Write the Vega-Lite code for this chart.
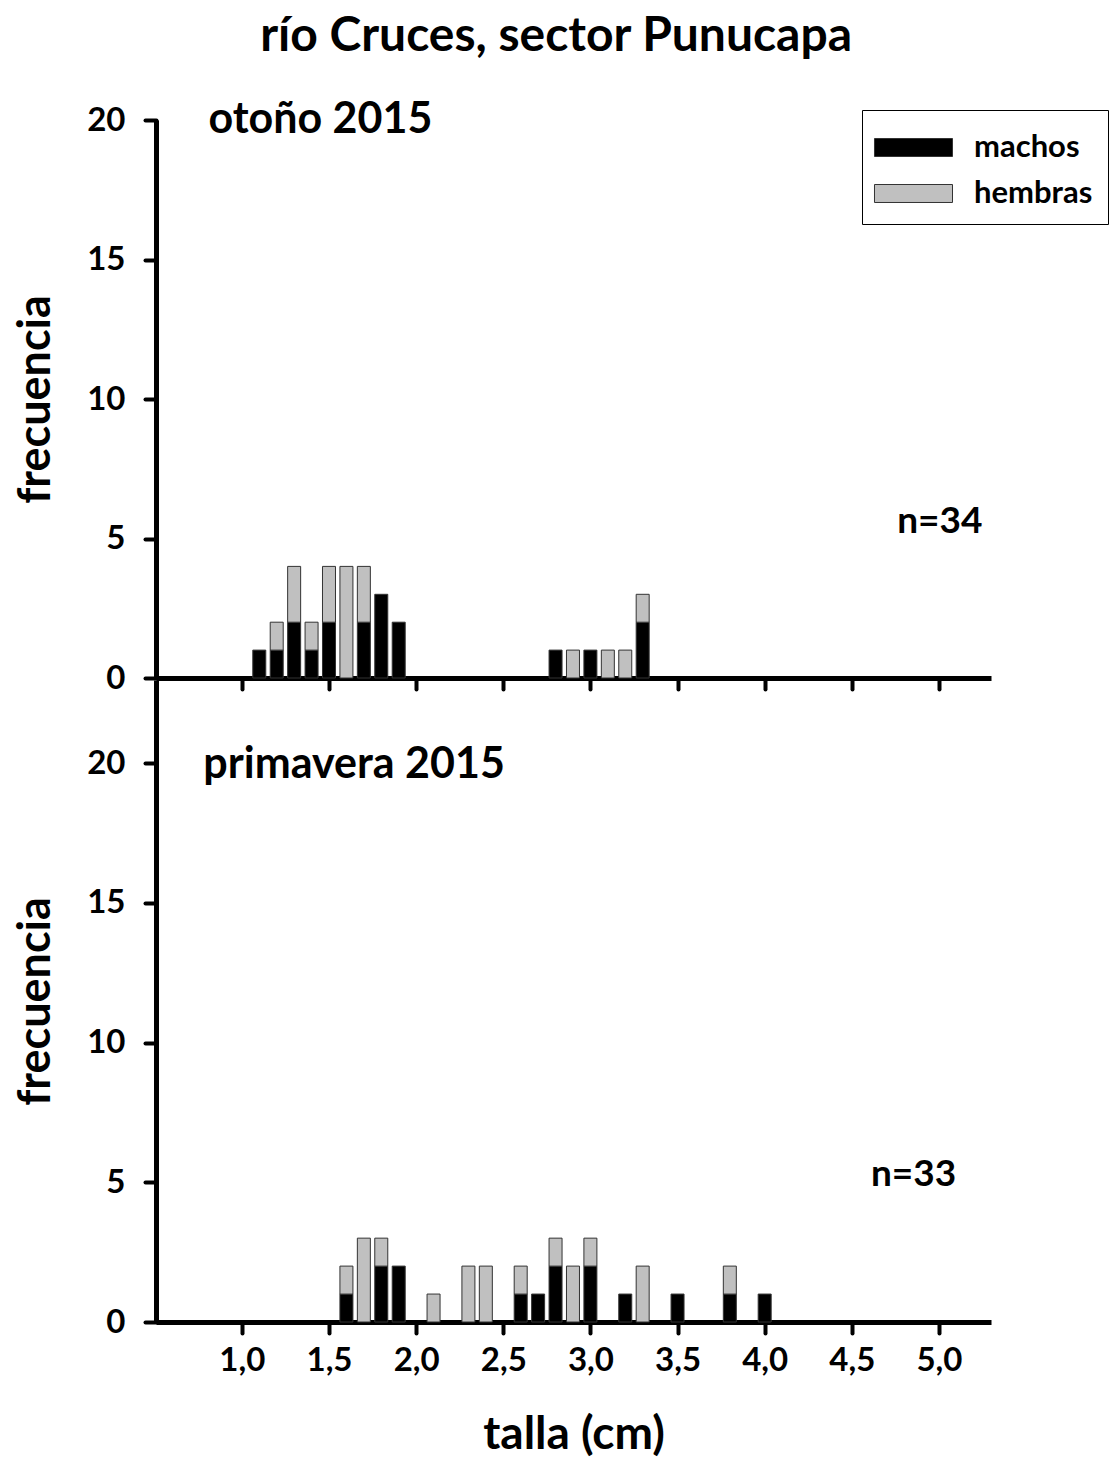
{
  "$schema": "https://vega.github.io/schema/vega-lite/v6.json",
  "background": "white",
  "padding": {"left": 13, "top": 13, "right": 0, "bottom": 0},
  "title": {"text": "río Cruces, sector Punucapa", "fontSize": 48, "font": "Lato", "fontWeight": "bold", "anchor": "middle", "offset": 38, "dx": -5, "color": "black"},
  "config": {
    "font": "Lato",
    "view": {"stroke": null},
    "axis": {
      "domainColor": "black", "domainWidth": 5, "tickColor": "black", "tickWidth": 4, "tickSize": 11, "tickCap": "round",
      "labelFont": "Lato", "labelFontSize": 33, "labelFontWeight": "bold", "labelColor": "black", "grid": false,
      "titleFont": "Lato", "titleFontWeight": "bold", "titleColor": "black"
    }
  },
  "datasets": {
    "otono": [
      {"talla": 1.1, "sexo": "machos", "frecuencia": 1},
      {"talla": 1.2, "sexo": "machos", "frecuencia": 1},
      {"talla": 1.2, "sexo": "hembras", "frecuencia": 1},
      {"talla": 1.3, "sexo": "machos", "frecuencia": 2},
      {"talla": 1.3, "sexo": "hembras", "frecuencia": 2},
      {"talla": 1.4, "sexo": "machos", "frecuencia": 1},
      {"talla": 1.4, "sexo": "hembras", "frecuencia": 1},
      {"talla": 1.5, "sexo": "machos", "frecuencia": 2},
      {"talla": 1.5, "sexo": "hembras", "frecuencia": 2},
      {"talla": 1.6, "sexo": "hembras", "frecuencia": 4},
      {"talla": 1.7, "sexo": "machos", "frecuencia": 2},
      {"talla": 1.7, "sexo": "hembras", "frecuencia": 2},
      {"talla": 1.8, "sexo": "machos", "frecuencia": 3},
      {"talla": 1.9, "sexo": "machos", "frecuencia": 2},
      {"talla": 2.8, "sexo": "machos", "frecuencia": 1},
      {"talla": 2.9, "sexo": "hembras", "frecuencia": 1},
      {"talla": 3.0, "sexo": "machos", "frecuencia": 1},
      {"talla": 3.1, "sexo": "hembras", "frecuencia": 1},
      {"talla": 3.2, "sexo": "hembras", "frecuencia": 1},
      {"talla": 3.3, "sexo": "machos", "frecuencia": 2},
      {"talla": 3.3, "sexo": "hembras", "frecuencia": 1}
    ],
    "primavera": [
      {"talla": 1.6, "sexo": "machos", "frecuencia": 1},
      {"talla": 1.6, "sexo": "hembras", "frecuencia": 1},
      {"talla": 1.7, "sexo": "hembras", "frecuencia": 3},
      {"talla": 1.8, "sexo": "machos", "frecuencia": 2},
      {"talla": 1.8, "sexo": "hembras", "frecuencia": 1},
      {"talla": 1.9, "sexo": "machos", "frecuencia": 2},
      {"talla": 2.1, "sexo": "hembras", "frecuencia": 1},
      {"talla": 2.3, "sexo": "hembras", "frecuencia": 2},
      {"talla": 2.4, "sexo": "hembras", "frecuencia": 2},
      {"talla": 2.6, "sexo": "machos", "frecuencia": 1},
      {"talla": 2.6, "sexo": "hembras", "frecuencia": 1},
      {"talla": 2.7, "sexo": "machos", "frecuencia": 1},
      {"talla": 2.8, "sexo": "machos", "frecuencia": 2},
      {"talla": 2.8, "sexo": "hembras", "frecuencia": 1},
      {"talla": 2.9, "sexo": "hembras", "frecuencia": 2},
      {"talla": 3.0, "sexo": "machos", "frecuencia": 2},
      {"talla": 3.0, "sexo": "hembras", "frecuencia": 1},
      {"talla": 3.2, "sexo": "machos", "frecuencia": 1},
      {"talla": 3.3, "sexo": "hembras", "frecuencia": 2},
      {"talla": 3.5, "sexo": "machos", "frecuencia": 1},
      {"talla": 3.8, "sexo": "machos", "frecuencia": 1},
      {"talla": 3.8, "sexo": "hembras", "frecuencia": 1},
      {"talla": 4.0, "sexo": "machos", "frecuencia": 1}
    ]
  },
  "bounds": "flush",
  "spacing": 2,
  "vconcat": [
    {
      "width": 835,
      "height": 558,
      "layer": [
        {
          "data": {"name": "otono"},
          "mark": {"type": "bar", "size": 13, "stroke": "#333333", "strokeWidth": 1},
          "encoding": {
            "x": {"field": "talla", "type": "quantitative", "scale": {"domain": [0.536, 5.27], "nice": false, "zero": false},
                  "axis": {"values": [1, 1.5, 2, 2.5, 3, 3.5, 4, 4.5, 5], "labels": false, "title": null}},
            "y": {"field": "frecuencia", "type": "quantitative", "stack": "zero", "scale": {"domain": [0, 20], "nice": false},
                  "axis": {"values": [0, 5, 10, 15, 20], "title": "frecuencia", "titleFontSize": 45, "titlePadding": 28, "labelPadding": 20}},
            "color": {"field": "sexo", "type": "nominal",
                      "scale": {"domain": ["machos", "hembras"], "range": ["black", "#c0c0c0"]},
                      "legend": {"orient": "none", "legendX": 706, "legendY": -10, "title": null,
                                 "symbolType": "M-1.773,-0.409H1.773V0.409H-1.773Z", "symbolSize": 1936, "symbolStrokeColor": "#333333", "symbolStrokeWidth": 1,
                                 "symbolOffset": 14,
                                 "labelFontSize": 31, "labelFontWeight": "bold", "labelColor": "black", "labelFont": "Lato", "labelOffset": 38,
                                 "rowPadding": 8, "padding": 15, "strokeColor": "black", "fillColor": "white"}},
            "order": {"field": "sexo", "sort": "descending"}
          }
        },
        {
          "data": {"values": [{}]},
          "mark": {"type": "text", "text": "otoño 2015", "align": "left", "baseline": "middle", "fontSize": 43, "fontWeight": "bold", "color": "black"},
          "encoding": {"x": {"datum": 0.808}, "y": {"datum": 20}}
        },
        {
          "data": {"values": [{}]},
          "mark": {"type": "text", "text": "n=34", "align": "center", "baseline": "middle", "fontSize": 37, "fontWeight": "bold", "color": "black"},
          "encoding": {"x": {"datum": 5.005}, "y": {"datum": 5.59}}
        }
      ]
    },
    {
      "width": 835,
      "height": 642,
      "layer": [
        {
          "data": {"name": "primavera"},
          "mark": {"type": "bar", "size": 13, "stroke": "#333333", "strokeWidth": 1},
          "encoding": {
            "x": {"field": "talla", "type": "quantitative", "scale": {"domain": [0.536, 5.27], "nice": false, "zero": false},
                  "axis": {"values": [1, 1.5, 2, 2.5, 3, 3.5, 4, 4.5, 5], "labelExpr": "replace(format(datum.value, '.1f'), '.', ',')",
                           "labelPadding": 11, "title": "talla (cm)", "titleFontSize": 46, "titlePadding": 35}},
            "y": {"field": "frecuencia", "type": "quantitative", "stack": "zero", "scale": {"domain": [0, 22.97], "nice": false},
                  "axis": {"values": [0, 5, 10, 15, 20], "title": "frecuencia", "titleFontSize": 45, "titlePadding": 28, "labelPadding": 20}},
            "color": {"field": "sexo", "type": "nominal",
                      "scale": {"domain": ["machos", "hembras"], "range": ["black", "#c0c0c0"]}, "legend": null},
            "order": {"field": "sexo", "sort": "descending"}
          }
        },
        {
          "data": {"values": [{}]},
          "mark": {"type": "text", "text": "primavera 2015", "align": "left", "baseline": "middle", "fontSize": 43, "fontWeight": "bold", "color": "black"},
          "encoding": {"x": {"datum": 0.779}, "y": {"datum": 19.93}}
        },
        {
          "data": {"values": [{}]},
          "mark": {"type": "text", "text": "n=33", "align": "center", "baseline": "middle", "fontSize": 37, "fontWeight": "bold", "color": "black"},
          "encoding": {"x": {"datum": 4.854}, "y": {"datum": 5.26}}
        }
      ]
    }
  ]
}
